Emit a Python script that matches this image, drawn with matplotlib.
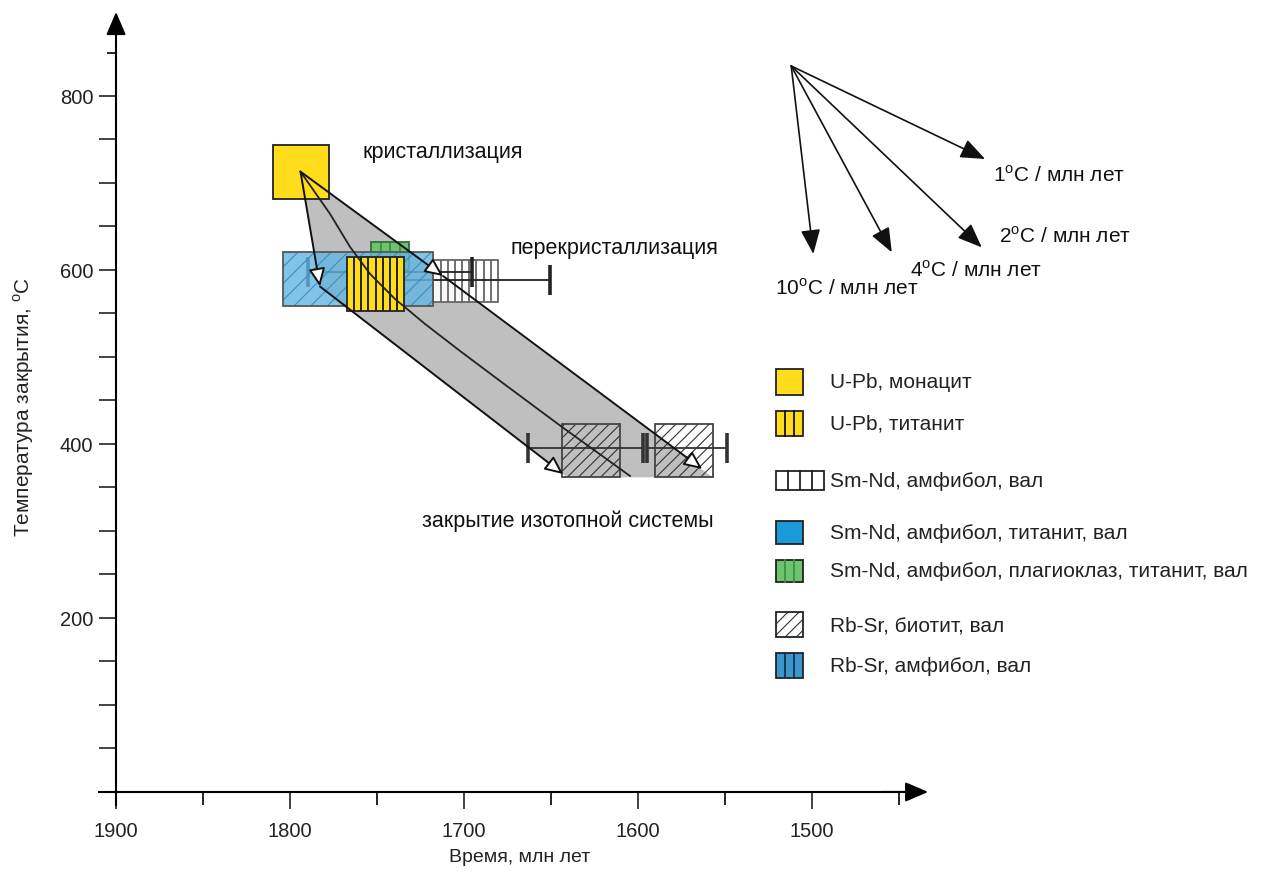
import matplotlib.pyplot as plt
import numpy as np
from matplotlib.patches import Rectangle, Polygon
from matplotlib.lines import Line2D

plt.rcParams['font.family'] = ['Liberation Sans', 'DejaVu Sans']
plt.rcParams['mathtext.fontset'] = 'custom'
plt.rcParams['mathtext.rm'] = 'Liberation Sans'
plt.rcParams['hatch.linewidth'] = 0.8

W, H = 1268, 879

# ---- данные: возраст (млн лет), температура закрытия (C) ----
# бокс = [возраст1, возраст2, T1, T2]
box_monazite = [1777.6, 1810.0, 681.6, 743.7]
box_titanite = [1734.3, 1767.4, 553.2, 614.6]
box_smnd_amph = [1680.5, 1717.6, 563.5, 611.0]
box_smnd_tit = [1717.6, 1803.9, 558.3, 621.0]
box_smnd_plag = [1731.6, 1753.4, 600.0, 631.8]
box_rbsr_bt = [[1610.3, 1643.9, 361.7, 423.0],
               [1557.0, 1590.2, 361.7, 423.0]]

# погрешности возраста
rbsr_age = [1630.0, 1572.0]
rbsr_err = [33.0, 23.0]
rbsr_T = [395.4, 395.4]
smnd_age = [1742.5, 1699.1]
smnd_err = [47.0, 48.5]
smnd_T = [597.7, 588.5]

# пути остывания
start = (1794.0, 713.0)
fast_end = (1782.8, 581.0)
slow_mid = (1712.1, 593.1)
low_end = (1643.1, 365.5)
up_end = (1563.2, 371.3)
band_bottom = [1640.8, 1557.2]
band_T = 361.7
mid_age = [1794.0, 1777.0, 1765.5, 1754.0, 1739.7, 1722.4, 1702.3, 1679.3, 1643.7, 1604.6]
mid_T = [713.0, 664.4, 626.4, 595.4, 566.7, 537.9, 506.9, 472.4, 419.5, 363.2]

# скорости остывания
rate_origin = (1512.0, 834.5)
rate_tip_age = [1499.3, 1454.2, 1402.5, 1400.6]
rate_tip_T = [618.4, 620.3, 626.0, 727.6]
rate_names = ['10', '4', '2', '1']

legend_labels = ['U-Pb, монацит', 'U-Pb, титанит', 'Sm-Nd, амфибол, вал',
                 'Sm-Nd, амфибол, титанит, вал',
                 'Sm-Nd, амфибол, плагиоклаз, титанит, вал',
                 'Rb-Sr, биотит, вал', 'Rb-Sr, амфибол, вал']


def fx(x):
    return x / W


def fy(y):
    return 1 - y / H


fig = plt.figure(figsize=(W / 100, H / 100), dpi=100)
ax = fig.add_axes([0, 0, 1, 1])
ax.set_xlim(1966.7, 1238.0)
ax.set_ylim(-98.9, 911.5)
ax.patch.set_visible(False)

# оси со стрелками
for s in ['top', 'right']:
    ax.spines[s].set_visible(False)
ax.spines['left'].set_position(('data', 1900))
ax.spines['bottom'].set_position(('data', 0))
ax.spines['left'].set_bounds(-15, 880)
ax.spines['bottom'].set_bounds(1445, 1910)
ax.spines['left'].set_linewidth(1.5)
ax.spines['bottom'].set_linewidth(1.5)
ax.annotate('', xy=(1900, 896.6), xytext=(1900, 870),
            arrowprops=dict(arrowstyle='-|>,head_length=0.7,head_width=0.3',
                            mutation_scale=20, fc='black', ec='black', lw=1.5,
                            shrinkA=0, shrinkB=0))
ax.annotate('', xy=(1433.3, 0), xytext=(1460, 0),
            arrowprops=dict(arrowstyle='-|>,head_length=0.7,head_width=0.3',
                            mutation_scale=20, fc='black', ec='black', lw=1.5,
                            shrinkA=0, shrinkB=0))

ax.set_xticks([1900, 1800, 1700, 1600, 1500])
ax.set_xticks([1850, 1750, 1650, 1550, 1450], minor=True)
ax.set_yticks(np.arange(50, 801, 50))
ax.set_yticklabels([str(v) if v % 200 == 0 else '' for v in np.arange(50, 801, 50)])
ax.set_yticks([850], minor=True)
ax.tick_params(axis='x', which='major', length=12, width=1.2, pad=9, labelsize=14.5, colors='#222')
ax.tick_params(axis='x', which='minor', length=9, width=1.2)
ax.tick_params(axis='y', which='major', length=12.5, width=1.2, pad=4, labelsize=14.5, colors='#222')
ax.tick_params(axis='y', which='minor', length=6.5, width=1.2)

# серая полоса остывания
band = Polygon([start, fast_end, (band_bottom[0], band_T), (band_bottom[1], band_T)],
               closed=True, fc='#BFBFBF', ec='none', zorder=1)
ax.add_patch(band)


def box(b, fc, ec='#333', n_cells=0, lc='black', hatch=None, alpha=1.0, z=2, lw=1.3):
    r = Rectangle((b[0], b[2]), b[1] - b[0], b[3] - b[2], fc=fc, ec='none',
                  alpha=alpha, zorder=z)
    ax.add_patch(r)
    if hatch:
        ax.add_patch(Rectangle((b[0], b[2]), b[1] - b[0], b[3] - b[2], fill=False,
                               ec=lc, lw=0, hatch=hatch, zorder=z + 0.01))
    if n_cells > 1:
        xs = np.linspace(b[0], b[1], n_cells + 1)[1:-1]
        ax.vlines(xs, b[2], b[3], colors=lc, lw=1.3, zorder=z + 0.02)
    ax.add_patch(Rectangle((b[0], b[2]), b[1] - b[0], b[3] - b[2], fill=False,
                           ec=ec, lw=lw, zorder=z + 0.03))


# Rb-Sr биотит
for b in box_rbsr_bt:
    box(b, 'none', ec='#444', hatch='///', lc='#333', z=2)
ax.errorbar(rbsr_age, rbsr_T, xerr=rbsr_err, fmt='none', ecolor='#333',
            elinewidth=1.3, capsize=11, capthick=2.6, zorder=3)

# Sm-Nd
box(box_smnd_plag, '#6CC46F', ec='#3a6a3c', n_cells=4, lc='#3f8f48', z=2)
box(box_smnd_amph, 'white', ec='#666', n_cells=9, lc='#666', alpha=0.9, z=2)
ax.errorbar(smnd_age, smnd_T, xerr=smnd_err, fmt='none', ecolor='#222',
            elinewidth=1.3, capsize=11, capthick=2.6, zorder=4)
box(box_smnd_tit, '#62B6E2', ec='#555', hatch='//', lc='#3d8fbf', alpha=0.8, z=5)

# U-Pb
box(box_titanite, '#FFDD1A', ec='#222', n_cells=8, lc='#111', z=6)
box(box_monazite, '#FFDD1A', ec='#222', z=6)

# линии остывания
ax.plot(mid_age, mid_T, color='#222', lw=1.3, zorder=8)
open_head = dict(arrowstyle='-|>,head_length=0.55,head_width=0.25', mutation_scale=20,
                 fc='white', ec='#111', lw=1.4, shrinkA=0, shrinkB=0)
for p0, p1 in [(start, fast_end), (start, slow_mid), (fast_end, low_end), (slow_mid, up_end)]:
    ax.annotate('', xy=p1, xytext=p0, arrowprops=open_head, zorder=9)

# скорости остывания
for ta, tt, nm in zip(rate_tip_age, rate_tip_T, rate_names):
    ax.annotate('', xy=(ta, tt), xytext=rate_origin,
                arrowprops=dict(arrowstyle='-|>,head_length=0.75,head_width=0.3',
                                mutation_scale=20, fc='#111', ec='#111', lw=1.2,
                                shrinkA=0, shrinkB=0))
rate_pos = [(775, 295), (910, 277), (999, 243), (993, 182)]
for (x, y), nm in zip(rate_pos, rate_names):
    fig.text(fx(x), fy(y), nm + r'$^{\mathrm{o}}$C / млн лет', fontsize=15,
             va='baseline', ha='left', color='#111')

# подписи
fig.text(fx(362), fy(158), 'кристаллизация', fontsize=15.5, va='baseline', color='#111')
fig.text(fx(511), fy(254), 'перекристаллизация', fontsize=15.5, va='baseline', color='#111')
fig.text(fx(422), fy(527), 'закрытие изотопной системы', fontsize=15.5, va='baseline', color='#111')
fig.text(fx(520), fy(858), 'Время, млн лет', fontsize=14, ha='center', va='center', color='#222')
fig.text(fx(24), fy(407), r'Температура закрытия, $^{\mathrm{o}}$C', fontsize=15,
         rotation=90, ha='center', va='center', color='#222',
         family=['Liberation Sans Narrow', 'Liberation Sans'])

# легенда
leg_y = [(370, 396), (412, 437), (472, 491), (522, 545), (561, 583), (613, 638), (654, 679)]
leg_w = [27, 27, 48, 27, 27, 27, 27]
leg_fc = ['#FFDD1A', '#FFDD1A', 'white', '#1A9BD7', '#6CC46F', 'white', '#3A96CC']
leg_cells = [1, 3, 4, 1, 3, 1, 3]
leg_lc = ['#111', '#111', '#222', '#111', '#3f8f48', '#333', '#15324a']
leg_hatch = [None, None, None, None, None, '///', None]
for (y0, y1), w, fc, nc, lc, ht, lab in zip(leg_y, leg_w, leg_fc, leg_cells, leg_lc,
                                            leg_hatch, legend_labels):
    x0 = 776
    fig.add_artist(Rectangle((fx(x0), fy(y1)), w / W, (y1 - y0) / H, fc=fc, ec='none',
                             transform=fig.transFigure))
    if ht:
        fig.add_artist(Rectangle((fx(x0), fy(y1)), w / W, (y1 - y0) / H, fill=False,
                                 ec=lc, lw=0, hatch=ht, transform=fig.transFigure))
    for xi in np.linspace(x0, x0 + w, nc + 1)[1:-1]:
        fig.add_artist(Line2D([fx(xi), fx(xi)], [fy(y0), fy(y1)], color=lc, lw=1.3,
                              transform=fig.transFigure))
    fig.add_artist(Rectangle((fx(x0), fy(y1)), w / W, (y1 - y0) / H, fill=False,
                             ec='#222', lw=1.3, transform=fig.transFigure))
    fig.text(fx(830), fy((y0 + y1) / 2), lab, fontsize=15, va='center', ha='left',
             color='#222')

fig.savefig('out.png', dpi=100)
